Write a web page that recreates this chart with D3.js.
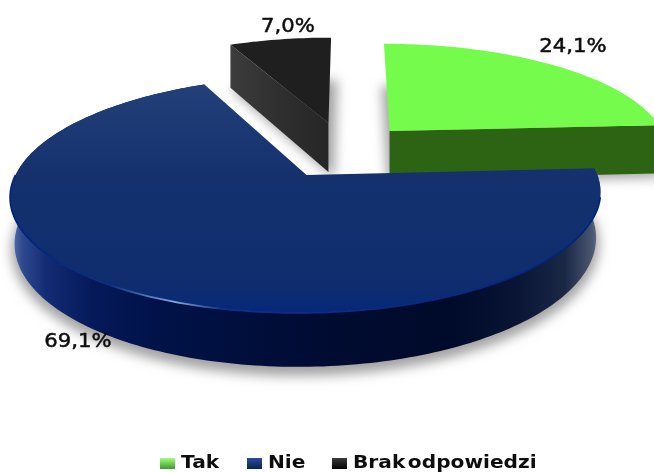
<!DOCTYPE html>
<html><head><meta charset="utf-8">
<script src="https://cdn.jsdelivr.net/npm/d3@7/dist/d3.min.js"></script>
<style>html,body{margin:0;padding:0;background:#fff;overflow:hidden}svg{display:block}</style>
</head><body><div id="c"></div>
<script>
const categories = ["Tak", "Nie", "Brak odpowiedzi"];
const values = [24.1, 69.1, 7.0];
const valueLabels = ["24,1%", "69,1%", "7,0%"];

const W = 654, H = 473;
const top_ = ["#74fb4b", "#132f69", "#1f1f1f"];
const sideFill = ["#2d6414", "url(#blueSide)", "url(#blackSide)"];
const legendFill = ["url(#lgG)", "url(#lgB)", "url(#lgK)"];
const offX = [0.295, 0, 0.07];      // explosion in disc plane
const offY = [0.408, 0, 0.49];
const thick = [52, 45, 53];
const baseInset = [1, 0.985, 1];
const labelPos = [[573, 52], [78, 347], [288, 32]];
const cx = 306.5, cy = 175, R = 291, A = 115, P = 0.166, SHEAR = -0.06;

const svg = d3.select("#c").append("svg").attr("width", W).attr("height", H);
const defs = svg.append("defs");
function lin(id, stops, x1 = 0, y1 = 0, x2 = 1, y2 = 0) {
  const g = defs.append("linearGradient").attr("id", id)
    .attr("x1", x1).attr("y1", y1).attr("x2", x2).attr("y2", y2);
  stops.forEach(s => g.append("stop").attr("offset", s[0]).attr("stop-color", s[1]));
}
lin("blueSide", [[0, "#6079b5"], [0.02, "#2f4a90"], [0.06, "#142c74"], [0.14, "#05195a"], [0.25, "#001248"], [0.5, "#000c33"], [0.75, "#000a2a"], [0.86, "#0a1535"], [0.94, "#1a2745"], [0.985, "#4a5670"], [1, "#6b7690"]]);
lin("blackSide", [[0, "#3c3c3c"], [0.5, "#2f2f2f"], [1, "#262626"]]);
lin("blueTop", [[0, "#24407a"], [0.4, "#14316e"], [0.88, "#0f2d6e"], [1, "#06287c"]], 0, 0, 0, 1);
lin("rimLight", [[0, "#04267a"], [0.17, "#0a2f84"], [0.28, "#8aa8dc"], [0.36, "#0c3088"], [1, "#04267a"]]);
lin("lgG", [[0, "#9dff7d"], [1, "#3f9a28"]], 0, 0, 0, 1);
lin("lgB", [[0, "#2a4d96"], [1, "#0c2258"]], 0, 0, 0, 1);
lin("lgK", [[0, "#3a3a3a"], [1, "#050505"]], 0, 0, 0, 1);
defs.append("filter").attr("id", "sh").attr("x", "-20%").attr("y", "-20%").attr("width", "140%").attr("height", "140%")
  .append("feGaussianBlur").attr("stdDeviation", 6);
defs.append("filter").attr("id", "soft").append("feGaussianBlur").attr("stdDeviation", 0.35);

const pie = d3.pie().sort(null).startAngle(0).endAngle(2 * Math.PI);
const arcs = pie(values);

function project(i, X, Y, drop) {           // Y positive toward the viewer
  const s = drop ? baseInset[i] : 1;
  const x0 = X * s + offX[i], y0 = Y - offY[i];
  const w = 1 / (1 - P * y0);
  const py = A * y0 * w;
  return [cx + R * x0 * w + SHEAR * py, cy + py + (drop ? thick[i] * w : 0)];
}
const rim = (i, a, drop) => project(i, Math.sin(a), -Math.cos(a), drop);
const apex = (i, drop) => project(i, 0, 0, drop);
const line = d3.line();
function samples(a0, a1) {
  const n = Math.ceil(Math.abs(a1 - a0) / 0.02);
  return d3.range(n + 1).map(k => a0 + (a1 - a0) * k / n);
}
const topPts = (i, d, drop) => [apex(i, drop), ...samples(d.startAngle, d.endAngle).map(a => rim(i, a, drop))];

// shadows
const gShadow = svg.append("g").attr("filter", "url(#sh)");
arcs.forEach((d, i) => {
  gShadow.append("path").attr("d", line(topPts(i, d, true)) + "Z")
    .attr("transform", `translate(${i === 2 ? 4 : 0},${i === 1 ? 6 : 2})`)
    .attr("fill", "#a2a2a2").attr("stroke", "#a2a2a2").attr("stroke-width", i === 1 ? 6 : 4);
});

const order = [2, 0, 1];
order.forEach(i => {
  const d = arcs[i], g = svg.append("g");
  if (i === 1) {                    // outer wall of the large slice
    const as = samples(d.startAngle, d.endAngle);
    const pts = [...as.map(a => rim(i, a, false)), ...as.slice().reverse().map(a => rim(i, a, true))];
    g.append("path").attr("d", line(pts) + "Z").attr("fill", sideFill[i]);
  } else {                          // exposed cut face
    const a = i === 0 ? d.endAngle : d.startAngle;
    const pts = [apex(i, false), rim(i, a, false), rim(i, a, true), apex(i, true)];
    g.append("path").attr("d", line(pts) + "Z").attr("fill", sideFill[i]);
  }
  g.append("path").attr("d", line(topPts(i, d, false)) + "Z")
    .attr("fill", i === 1 ? "url(#blueTop)" : top_[i]);
  if (i === 1) {                    // bevel highlight on the front rim
    g.append("path").attr("d", line(samples(Math.PI * 0.56, Math.PI * 1.5).map(a => rim(i, a, false))))
      .attr("fill", "none").attr("stroke", "url(#rimLight)").attr("stroke-width", 1.8).attr("filter", "url(#soft)");
  }
});

// value labels
svg.append("g").selectAll("text").data(valueLabels).join("text")
  .attr("transform", (d, i) => `translate(${labelPos[i][0]},${labelPos[i][1]}) scale(1.06,1)`)
  .attr("text-anchor", "middle").attr("font-family", "DejaVu Sans")
  .attr("font-size", 20).attr("font-weight", 400).attr("stroke", "#111").attr("stroke-width", 0.5)
  .attr("fill", "#111").attr("filter", "url(#soft)").text(d => d);

// legend
const legendX = [160, 247, 332];
const lg = svg.append("g").selectAll("g").data(categories).join("g")
  .attr("transform", (d, i) => `translate(${legendX[i]},457)`);
lg.append("rect").attr("width", 15).attr("height", 11).attr("y", 1)
  .attr("fill", (d, i) => legendFill[i]);
lg.append("text").attr("transform", "translate(21,11) scale(1.12,1)").attr("font-family", "DejaVu Sans")
  .attr("font-size", 18).attr("font-weight", 700).attr("word-spacing", -4).attr("fill", "#111")
  .attr("filter", "url(#soft)").text(d => d);
</script></body></html>
